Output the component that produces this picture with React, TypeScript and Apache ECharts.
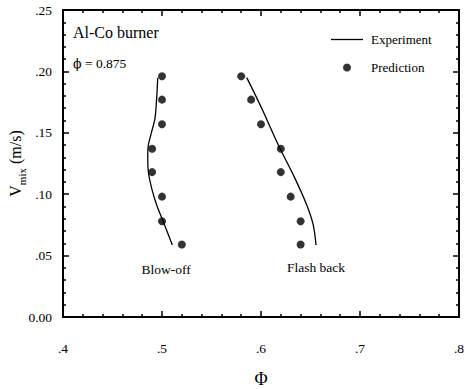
import React, { useEffect, useRef } from "react";
import * as echarts from "echarts";

const xTicks = [0.4, 0.5, 0.6, 0.7, 0.8];
const yTicks = [0, 0.05, 0.1, 0.15, 0.2, 0.25];

const blowOffExpX = [0.4957, 0.4946, 0.4929, 0.4896, 0.4862, 0.4856, 0.4862, 0.4896, 0.4946, 0.5013, 0.5104];
const blowOffExpY = [0.1949, 0.1781, 0.1618, 0.1509, 0.1401, 0.1319, 0.1183, 0.1048, 0.0912, 0.0776, 0.0586];

const flashExpX = [0.5856, 0.6007, 0.6175, 0.6343, 0.6462, 0.6528, 0.6556];
const flashExpY = [0.1949, 0.17, 0.1401, 0.1129, 0.0912, 0.0749, 0.0586];

const predY = [0.196, 0.177, 0.157, 0.137, 0.118, 0.098, 0.078, 0.059];
const blowOffPredX = [0.5, 0.5, 0.5, 0.49, 0.49, 0.5, 0.5, 0.52];
const flashPredX = [0.58, 0.59, 0.6, 0.62, 0.62, 0.63, 0.64, 0.64];

const FONT = "Liberation Serif";

export default function App() {
  const ref = useRef<HTMLDivElement>(null);
  useEffect(() => {
    if (!ref.current) return;
    const chart = echarts.init(ref.current, null, { renderer: "svg" });
    const line = () => ({ show: true, onZero: false, lineStyle: { color: "#000", width: 2, opacity: 1, type: "solid" } });
    const tick = () => ({ show: true, inside: true, length: 6, lineStyle: { color: "#000", width: 1.5, opacity: 1, type: "solid" } });
    const minor = () => ({ show: true, splitNumber: 5, length: 3, lineStyle: { color: "#000", width: 1.5, opacity: 1, type: "solid" } });
    const blowLine = blowOffExpX.map((x, i) => [x, blowOffExpY[i]]);
    const flashLine = flashExpX.map((x, i) => [x, flashExpY[i]]);
    const preds = [
      ...blowOffPredX.map((x, i) => [x, predY[i]]),
      ...flashPredX.map((x, i) => [x, predY[i]]),
    ];
    const xAxisBase = (pos: string) => ({
      type: "value",
      min: xTicks[0],
      max: xTicks[xTicks.length - 1],
      interval: 0.1,
      position: pos,
      axisLine: line(),
      axisTick: tick(),
      minorTick: minor(),
      splitLine: { show: false },
      minorSplitLine: { show: false },
    });
    const yAxisBase = (pos: string) => ({
      type: "value",
      min: yTicks[0],
      max: yTicks[yTicks.length - 1],
      interval: 0.05,
      position: pos,
      axisLine: line(),
      axisTick: tick(),
      minorTick: minor(),
      splitLine: { show: false },
      minorSplitLine: { show: false },
    });
    chart.setOption({
      animation: false,
      textStyle: { fontFamily: FONT, color: "#000" },
      grid: { left: 63, right: 6, top: 10, bottom: 72, containLabel: false, outerBoundsMode: "none" },
      legend: {
        orient: "vertical",
        left: 331,
        top: 33,
        padding: 0,
        itemWidth: 32,
        itemHeight: 8,
        itemGap: 15,
        data: [
          { name: "Experiment", icon: "path://M0,0L32,0L32,1.3L0,1.3Z" },
          { name: "Prediction", icon: "circle" },
        ],
        textStyle: { fontFamily: FONT, fontSize: 13, color: "#000", padding: [0, 0, 0, 3] },
      },
      xAxis: [
        {
          ...xAxisBase("bottom"),
          name: "Φ",
          nameLocation: "middle",
          nameGap: 53,
          nameMoveOverlap: false,
          nameTextStyle: { fontFamily: FONT, fontSize: 18, color: "#000" },
          axisLabel: {
            show: true,
            margin: 24,
            fontFamily: FONT,
            fontSize: 13.5,
            color: "#000",
            formatter: (v: number) => v.toFixed(1).replace(/^0/, ""),
          },
        },
        { ...xAxisBase("top"), axisLabel: { show: false } },
      ],
      yAxis: [
        {
          ...yAxisBase("left"),
          name: "{v|V}{s|mix}{v| (m/s)}",
          nameLocation: "middle",
          nameGap: 36,
          nameMoveOverlap: false,
          nameTextStyle: {
            fontFamily: FONT,
            color: "#000",
            rich: {
              v: { fontFamily: FONT, fontSize: 16, color: "#000", verticalAlign: "middle", lineHeight: 24 },
              s: { fontFamily: FONT, fontSize: 11, color: "#000", verticalAlign: "bottom", lineHeight: 11 },
            },
          },
          axisLabel: {
            show: true,
            margin: 11,
            fontFamily: FONT,
            fontSize: 13.5,
            color: "#000",
            padding: [6, 0, 0, 0],
            formatter: (v: number) => (v === 0 ? "0.00" : v.toFixed(2).replace(/^0/, "")),
          },
        },
        { ...yAxisBase("right"), axisLabel: { show: false } },
      ],
      graphic: [
        { type: "text", left: 73, top: 24, style: { text: "Al-Co burner", font: `16px "${FONT}"`, fill: "#000" } },
        {
          type: "text",
          left: 73,
          top: 56,
          style: {
            text: "{p|ϕ}{t| = 0.875}",
            fill: "#000",
            rich: {
              p: { fontFamily: "DejaVu Serif", fontSize: 12.5, fill: "#000" },
              t: { fontFamily: FONT, fontSize: 13.5, fill: "#000" },
            },
          },
        },
        { type: "text", x: 166, y: 269, style: { text: "Blow-off", font: `13.5px "${FONT}"`, fill: "#000", align: "center", verticalAlign: "middle" } },
        { type: "text", x: 316, y: 267, style: { text: "Flash back", font: `13.5px "${FONT}"`, fill: "#000", align: "center", verticalAlign: "middle" } },
      ],
      series: [
        {
          name: "Experiment",
          type: "line",
          data: blowLine,
          smooth: 0.3,
          symbol: "none",
          lineStyle: { color: "#000", width: 1.3 },
          itemStyle: { color: "#000" },
        },
        {
          name: "Experiment",
          type: "line",
          data: flashLine,
          smooth: 0.3,
          symbol: "none",
          lineStyle: { color: "#000", width: 1.3 },
          itemStyle: { color: "#000" },
        },
        {
          name: "Prediction",
          type: "scatter",
          data: preds,
          symbol: "circle",
          symbolSize: 8,
          itemStyle: { color: "#000" },
        },
      ],
    });
    return () => chart.dispose();
  }, []);
  return <div ref={ref} style={{ width: 465, height: 389, position: "absolute", left: 0, top: 0, background: "#fff" }} />;
}
